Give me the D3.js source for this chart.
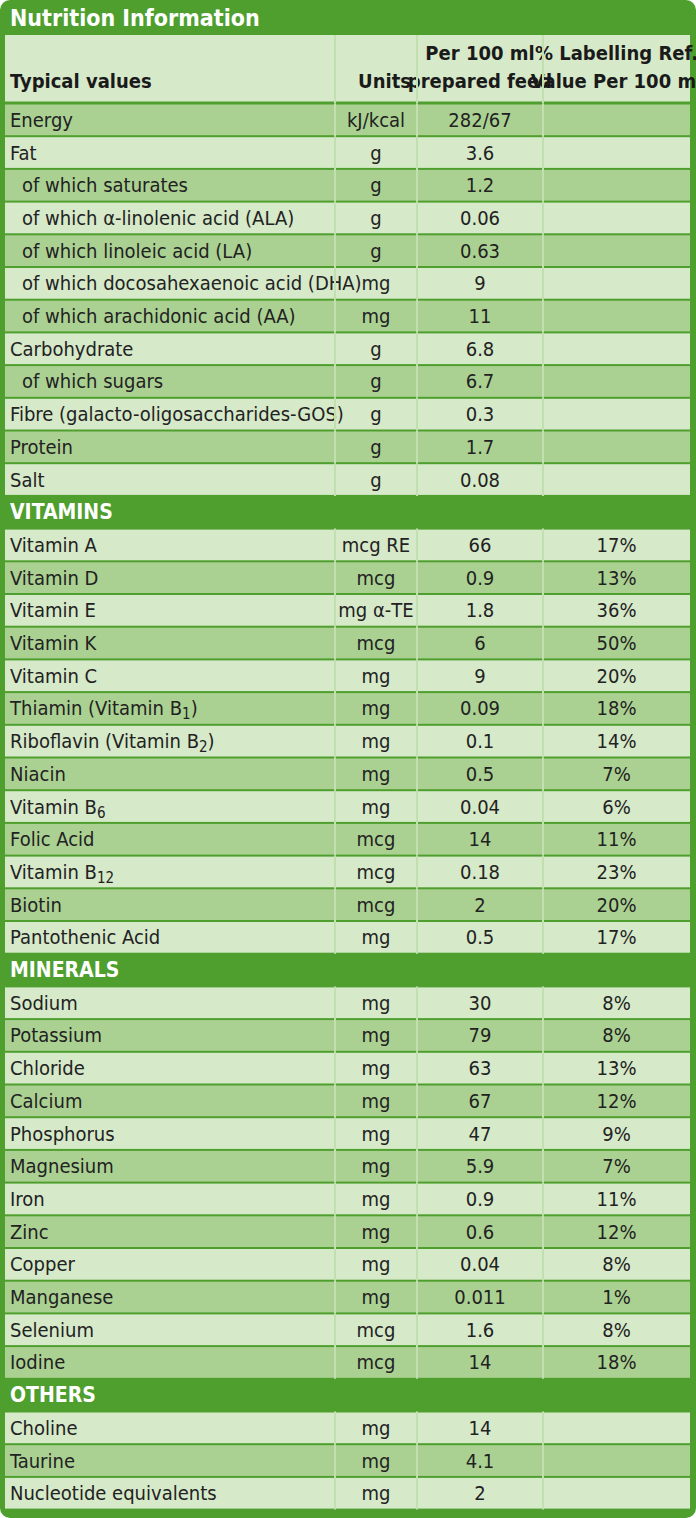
<!DOCTYPE html>
<html><head><meta charset="utf-8">
<script src="https://cdn.jsdelivr.net/npm/d3@7"></script>
<style>body{margin:0;background:#fff}text{font-family:"Liberation Sans Narrow","DejaVu Sans Condensed",sans-serif}</style>
</head><body><div id="chart"></div>
<script>
// sections: [name, rows] ; row = [label, unit, per100, pct, indent]
const nutrients = [
  ['Energy','kJ/kcal','282/67','',0],
  ['Fat','g','3.6','',0],
  ['of which saturates','g','1.2','',1],
  ['of which α-linolenic acid (ALA)','g','0.06','',1],
  ['of which linoleic acid (LA)','g','0.63','',1],
  ['of which docosahexaenoic acid (DHA)','mg','9','',1],
  ['of which arachidonic acid (AA)','mg','11','',1],
  ['Carbohydrate','g','6.8','',0],
  ['of which sugars','g','6.7','',1],
  ['Fibre (galacto-oligosaccharides-GOS)','g','0.3','',0],
  ['Protein','g','1.7','',0],
  ['Salt','g','0.08','',0]
]
const vitamins = [
  ['Vitamin A','mcg RE','66','17%'],
  ['Vitamin D','mcg','0.9','13%'],
  ['Vitamin E','mg α-TE','1.8','36%'],
  ['Vitamin K','mcg','6','50%'],
  ['Vitamin C','mg','9','20%'],
  ['Thiamin (Vitamin B_1)','mg','0.09','18%'],
  ['Riboflavin (Vitamin B_2)','mg','0.1','14%'],
  ['Niacin','mg','0.5','7%'],
  ['Vitamin B_6','mg','0.04','6%'],
  ['Folic Acid','mcg','14','11%'],
  ['Vitamin B_12','mcg','0.18','23%'],
  ['Biotin','mcg','2','20%'],
  ['Pantothenic Acid','mg','0.5','17%']
]
const minerals = [
  ['Sodium','mg','30','8%'],
  ['Potassium','mg','79','8%'],
  ['Chloride','mg','63','13%'],
  ['Calcium','mg','67','12%'],
  ['Phosphorus','mg','47','9%'],
  ['Magnesium','mg','5.9','7%'],
  ['Iron','mg','0.9','11%'],
  ['Zinc','mg','0.6','12%'],
  ['Copper','mg','0.04','8%'],
  ['Manganese','mg','0.011','1%'],
  ['Selenium','mcg','1.6','8%'],
  ['Iodine','mcg','14','18%']
]
const others = [
  ['Choline','mg','14',''],
  ['Taurine','mg','4.1',''],
  ['Nucleotide equivalents','mg','2','']
]
const sections = [[null, nutrients], ['VITAMINS', vitamins], ['MINERALS', minerals], ['OTHERS', others]]

const width = 696, height = 1518
const green = '#4e9f2e', light = '#d6e9c9', dark = '#abd192', line = '#c2dfb0'
const cols = [5, 335, 417, 543, 690]
const rowH = 32.7, tableTop = 103.5

// flatten to rows
const rows = []
sections.forEach(([name, list]) => {
  if (name) rows.push({head: name})
  list.forEach((r, i) => rows.push({cells: r, even: i % 2 === 0, first: !name}))
})
// nutrient block starts dark, others start light
rows.forEach(r => { if (r.cells) r.shade = r.first ? (r.even ? dark : light) : (r.even ? light : dark) })

const y = d3.scaleLinear().domain([0, rows.length]).range([tableTop, tableTop + rows.length * rowH])

const svg = d3.select('#chart').append('svg').attr('width', width).attr('height', height)
svg.append('rect').attr('width', width).attr('height', height).attr('rx', 10).attr('fill', green)
svg.append('text').attr('x', 10).attr('y', 26).attr('fill', '#fff').attr('font-size', 23).attr('font-weight', 'bold').text('Nutrition Information')

// header row
svg.append('rect').attr('x', cols[0]).attr('y', 35).attr('width', cols[4] - cols[0]).attr('height', tableTop - 37).attr('fill', light)
const hd = svg.append('g').attr('font-size', 20).attr('font-weight', 'bold').attr('fill', '#1a1a1a')
hd.append('text').attr('x', 10).attr('y', 88).text('Typical values')
hd.append('text').attr('x', cols[2] - 6).attr('y', 88).attr('text-anchor', 'end').text('Units')
;[['Per 100 ml', 'prepared feed', 2], ['% Labelling Ref.', 'Value Per 100 ml', 3]].forEach(([a, b, c]) => {
  const cx = (cols[c] + cols[c + 1]) / 2
  hd.append('text').attr('x', cx).attr('y', 60).attr('text-anchor', 'middle').text(a)
  hd.append('text').attr('x', cx).attr('y', 88).attr('text-anchor', 'middle').text(b)
})

const g = svg.append('g')
rows.forEach((r, i) => {
  const y0 = y(i), ty = y0 + rowH / 2 + 7
  if (r.head) {
    g.append('text').attr('x', 10).attr('y', ty).attr('fill', '#fff').attr('font-size', 21).attr('font-weight', 'bold').text(r.head)
    return
  }
  g.append('rect').attr('x', cols[0]).attr('y', y0 + 1).attr('width', cols[4] - cols[0]).attr('height', rowH - 2).attr('fill', r.shade)
  const [label, unit, val, pct, ind] = r.cells
  const t = g.append('text').attr('x', ind ? 22 : 10).attr('y', ty).attr('font-size', 20).attr('fill', '#222')
  const parts = label.split('_')
  t.append('tspan').text(parts[0])
  if (parts[1]) {
    const m = parts[1].match(/^(\d+)(.*)$/)
    t.append('tspan').attr('font-size', 15).attr('dy', 4).text(m[1])
    if (m[2]) t.append('tspan').attr('dy', -4).text(m[2])
  }
  ;[unit, val, pct].forEach((v, c) => {
    g.append('text').attr('x', (cols[c + 1] + cols[c + 2]) / 2).attr('y', ty).attr('text-anchor', 'middle')
      .attr('font-size', 20).attr('fill', '#222').text(v)
  })
})

// column dividers (skip section header rows)
const vl = svg.append('g').attr('stroke', line).attr('stroke-width', 2)
;[1, 2, 3].forEach(c => {
  vl.append('line').attr('x1', cols[c]).attr('x2', cols[c]).attr('y1', 35).attr('y2', tableTop)
  rows.forEach((r, i) => {
    if (r.cells) vl.append('line').attr('x1', cols[c]).attr('x2', cols[c]).attr('y1', y(i)).attr('y2', y(i + 1))
  })
})
</script></body></html>
